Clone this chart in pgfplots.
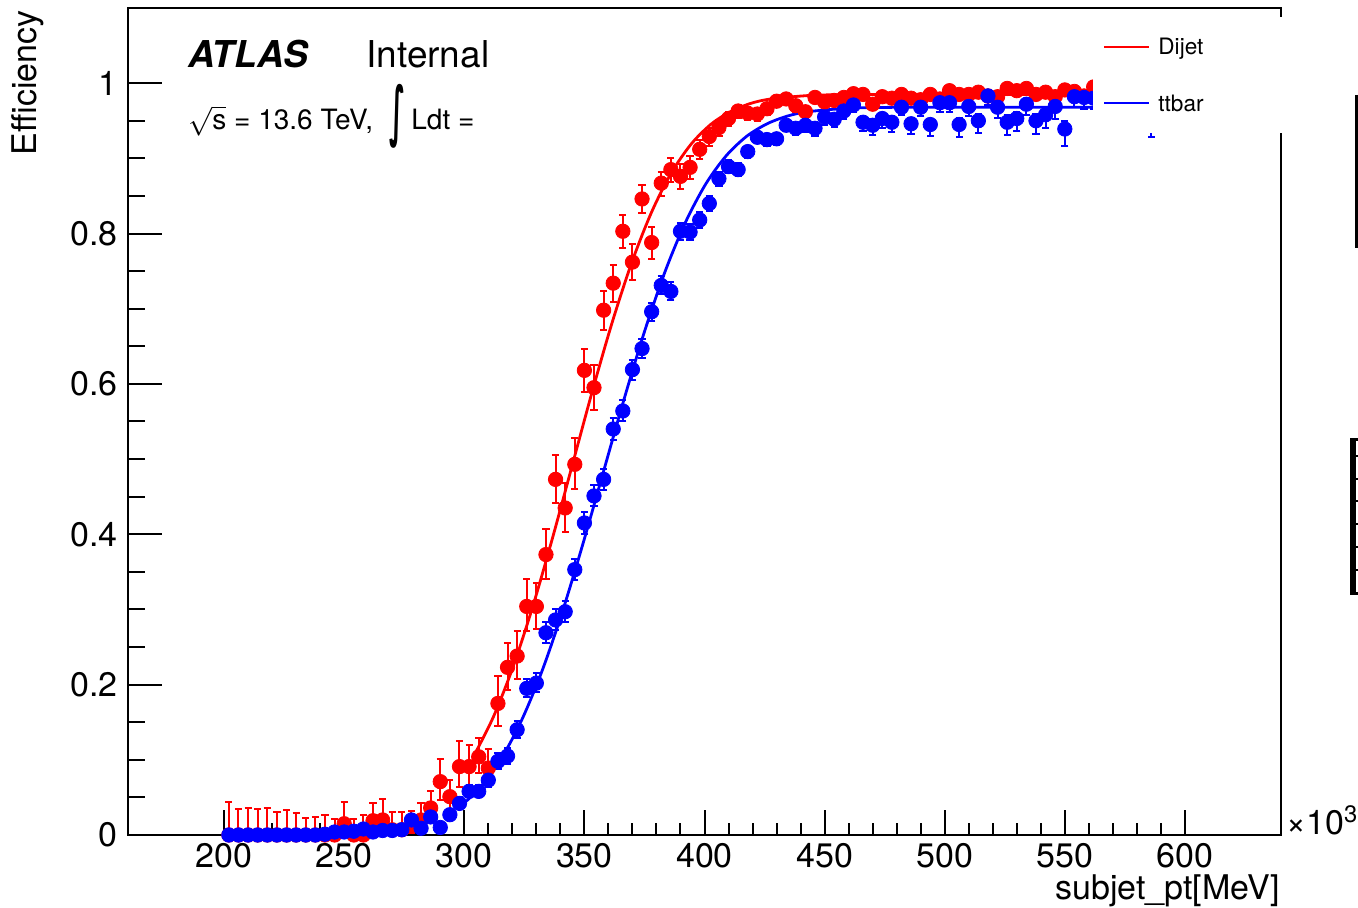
\documentclass[border=0pt]{standalone}
\usepackage{fontspec}
\setmainfont{TeX Gyre Heros}
\newfontfamily\dejavu{DejaVu Sans}
\usepackage{graphicx}
\usepackage{pgfplots}
\usepackage{pgfplotstable}
\pgfplotsset{compat=1.18}

\pgfplotstableread{
x y ep em
202 0 0.044 0
206 0 0.034 0
210 0 0.036 0
214 0 0.035 0
218 0 0.036 0
222 0 0.030 0
226 0 0.033 0
230 0 0.029 0
234 0 0.022 0
238 0 0.024 0
242 0 0.027 0
246 0 0.021 0
250 0.015 0.029 0.012
254 0 0.021 0
258 0 0.027 0
262 0.019 0.023 0.014
266 0.020 0.028 0.015
270 0.007 0.024 0.006
274 0.007 0.023 0.006
278 0.012 0.020 0.009
282 0.020 0.023 0.014
286 0.036 0.022 0.018
290 0.071 0.030 0.025
294 0.051 0.022 0.018
298 0.091 0.034 0.027
302 0.091 0.029 0.024
306 0.104 0.025 0.022
310 0.089 0.025 0.021
314 0.175 0.036 0.030
318 0.223 0.032 0.030
322 0.238 0.033 0.031
326 0.304 0.036 0.033
330 0.304 0.031 0.030
334 0.373 0.034 0.032
338 0.473 0.033 0.032
342 0.435 0.033 0.032
346 0.493 0.035 0.033
350 0.618 0.028 0.029
354 0.595 0.030 0.030
358 0.698 0.025 0.026
362 0.734 0.024 0.025
366 0.803 0.021 0.022
370 0.762 0.024 0.024
374 0.846 0.018 0.019
378 0.788 0.021 0.022
382 0.867 0.015 0.017
386 0.885 0.015 0.016
390 0.876 0.016 0.017
394 0.888 0.015 0.016
398 0.912 0.012 0.013
402 0.929 0.011 0.012
406 0.941 0.010 0.011
410 0.953 0.009 0.010
414 0.963 0.008 0.009
418 0.960 0.008 0.009
422 0.959 0.008 0.009
426 0.966 0.007 0.008
430 0.976 0.006 0.007
434 0.979 0.006 0.007
438 0.970 0.007 0.008
442 0.962 0.008 0.009
446 0.981 0.005 0.006
450 0.975 0.006 0.007
454 0.977 0.006 0.007
458 0.981 0.005 0.006
462 0.986 0.005 0.006
466 0.985 0.005 0.006
470 0.972 0.006 0.007
474 0.982 0.005 0.006
478 0.980 0.005 0.006
482 0.985 0.005 0.006
486 0.980 0.005 0.006
490 0.978 0.005 0.006
494 0.985 0.005 0.006
498 0.979 0.005 0.006
502 0.990 0.004 0.005
506 0.985 0.005 0.006
510 0.985 0.005 0.006
514 0.988 0.004 0.005
518 0.983 0.005 0.006
522 0.982 0.005 0.006
526 0.993 0.004 0.005
530 0.990 0.004 0.005
534 0.993 0.004 0.005
538 0.985 0.005 0.006
542 0.988 0.004 0.005
546 0.982 0.005 0.006
550 0.991 0.004 0.005
554 0.989 0.004 0.005
558 0.983 0.005 0.006
562 0.995 0.003 0.005
566 0.990 0.004 0.006
570 0.988 0.004 0.006
574 0.992 0.004 0.006
578 0.989 0.004 0.006
582 0.991 0.004 0.006
586 0.987 0.005 0.007
590 0.990 0.004 0.006
594 0.992 0.004 0.006
598 0.988 0.005 0.007
}\reddata

\pgfplotstableread{
x y ep em
202 0 0.003 0
206 0 0.003 0
210 0 0.003 0
214 0 0.003 0
218 0 0.003 0
222 0 0.003 0
226 0 0.003 0
230 0 0.003 0
234 0 0.003 0
238 0 0.003 0
242 0.001 0.003 0.001
246 0.004 0.004 0.003
250 0.004 0.004 0.003
254 0.005 0.004 0.003
258 0.008 0.005 0.004
262 0.004 0.004 0.003
266 0.006 0.004 0.003
270 0.006 0.004 0.003
274 0.007 0.005 0.004
278 0.020 0.007 0.006
282 0.009 0.005 0.004
286 0.024 0.007 0.006
290 0.010 0.005 0.004
294 0.027 0.007 0.006
298 0.042 0.008 0.007
302 0.058 0.009 0.008
306 0.058 0.009 0.008
310 0.073 0.010 0.009
314 0.098 0.011 0.010
318 0.105 0.011 0.010
322 0.140 0.012 0.011
326 0.195 0.013 0.012
330 0.202 0.013 0.012
334 0.269 0.014 0.013
338 0.286 0.014 0.013
342 0.297 0.014 0.014
346 0.353 0.014 0.014
350 0.415 0.014 0.014
354 0.451 0.014 0.014
358 0.473 0.014 0.014
362 0.540 0.014 0.014
366 0.564 0.014 0.014
370 0.619 0.013 0.014
374 0.647 0.013 0.013
378 0.696 0.012 0.013
382 0.731 0.012 0.012
386 0.723 0.012 0.012
390 0.803 0.011 0.011
394 0.802 0.011 0.011
398 0.818 0.010 0.011
402 0.840 0.010 0.010
406 0.873 0.009 0.010
410 0.889 0.009 0.009
414 0.885 0.009 0.009
418 0.909 0.008 0.009
422 0.928 0.007 0.008
426 0.925 0.007 0.008
430 0.926 0.007 0.008
434 0.944 0.006 0.008
438 0.940 0.007 0.009
442 0.944 0.007 0.009
446 0.940 0.007 0.010
450 0.955 0.006 0.010
454 0.952 0.006 0.010
458 0.963 0.006 0.010
462 0.971 0.005 0.010
466 0.948 0.007 0.012
470 0.944 0.008 0.013
474 0.953 0.007 0.012
478 0.948 0.008 0.013
482 0.968 0.006 0.011
486 0.946 0.008 0.014
490 0.968 0.006 0.012
494 0.945 0.008 0.015
498 0.974 0.006 0.012
502 0.974 0.006 0.012
506 0.945 0.009 0.016
510 0.969 0.007 0.013
514 0.950 0.009 0.016
518 0.983 0.005 0.012
522 0.968 0.007 0.014
526 0.948 0.009 0.017
530 0.953 0.009 0.017
534 0.972 0.007 0.015
538 0.950 0.009 0.018
542 0.958 0.009 0.017
546 0.969 0.008 0.016
550 0.939 0.011 0.022
554 0.982 0.006 0.014
558 0.981 0.006 0.015
562 0.980 0.006 0.015
566 0.970 0.008 0.018
570 0.975 0.007 0.017
574 0.968 0.008 0.018
578 0.972 0.008 0.018
582 0.975 0.007 0.017
586 0.962 0.010 0.034
590 0.970 0.008 0.018
594 0.975 0.008 0.018
598 0.968 0.009 0.020
}\bluedata

\pgfplotsset{
  frame/.style={
    at={(64pt,36.5pt)}, anchor=south west,
    width=576.5pt, height=413.5pt, scale only axis,
    xmin=160, xmax=640, ymin=0, ymax=1.1,
    tick align=inside, tick pos=left,
    axis line style={line width=1pt},
    every tick/.style={black, line width=1pt},
    /pgf/number format/assume math mode=true,
    tick label style={font=\fontsize{17}{17}\selectfont},
  }
}

\begin{document}
\begin{tikzpicture}
\path[use as bounding box] (0pt,0pt) rectangle (679pt,454pt);
% axis carrying the x ticks
\begin{axis}[frame,
  xtick={200,250,300,350,400,450,500,550,600},
  ytick=\empty, minor x tick num=4,
  major tick length=12.5pt, minor tick length=6pt,
  xticklabel style={anchor=north, inner sep=0pt, yshift=-4pt},
]
\end{axis}
% axis carrying the y ticks and the data
\begin{axis}[frame,
  xtick=\empty,
  ytick={0,0.2,0.4,0.6,0.8,1}, minor y tick num=3,
  major tick length=17pt, minor tick length=8.5pt,
  yticklabel style={anchor=east, inner sep=0pt, xshift=-5pt},
  clip=false,
]
\addplot[only marks, mark=*, color=red, mark size=3.6pt,
  error bars/.cd, y dir=both, y explicit,
  error bar style={line width=1pt, red},
  error mark options={rotate=90, mark size=1.8pt, line width=1pt, red}]
  table[x=x, y=y, y error plus=ep, y error minus=em] {\reddata};
\addplot[red, line width=1.4pt, smooth, no marks] coordinates {
 (304,0.1055) (312,0.1563) (320.25,0.2232) (328.5,0.3039) (336.75,0.3953)
 (345,0.4925) (353.25,0.5897) (361.5,0.6811) (369.75,0.7618) (378,0.8287)
 (386.25,0.881) (394.5,0.9192) (402.75,0.9455) (411,0.9625) (419.25,0.9731)
 (427.5,0.9789) (444,0.9837) (460.5,0.9848) (477,0.985) (530,0.985) (600,0.985)};
\addplot[only marks, mark=*, color=blue, mark size=3.6pt,
  error bars/.cd, y dir=both, y explicit,
  error bar style={line width=1pt, blue},
  error mark options={rotate=90, mark size=1.8pt, line width=1pt, blue}]
  table[x=x, y=y, y error plus=ep, y error minus=em] {\bluedata};
\addplot[blue, line width=1.4pt, smooth, no marks] coordinates {
 (300,0.0426) (307,0.0647) (315.5,0.1022) (324,0.1536) (332.5,0.2193)
 (341,0.2986) (349.5,0.3885) (358,0.484) (366.5,0.5795) (375,0.6694)
 (383.5,0.7487) (392,0.8144) (400.5,0.8658) (409,0.9033) (417.5,0.9292)
 (426,0.9459) (434.5,0.9562) (443,0.962) (460,0.9667) (477,0.9678)
 (494,0.968) (540,0.968) (600,0.968)};
\end{axis}
% legend box (covers data, as in the reference)
\fill[white] (546.5pt,387.5pt) rectangle (652pt,445.5pt);
\draw[red, line width=1pt] (552pt,430.6pt) -- (574.5pt,430.6pt);
\node[anchor=base west, inner sep=0pt, font=\fontsize{11.3}{11.3}\selectfont] at (579pt,426.5pt) {Dijet};
\draw[blue, line width=1pt] (552pt,402.5pt) -- (574.5pt,402.5pt);
\node[anchor=base west, inner sep=0pt, font=\fontsize{11.3}{11.3}\selectfont] at (579pt,398pt) {ttbar};
% ATLAS label
\node[anchor=base west, inner sep=0pt, font=\fontsize{18.5}{18.5}\selectfont\bfseries\itshape] at (94pt,420pt) {ATLAS};
\node[anchor=base west, inner sep=0pt, font=\fontsize{18.5}{18.5}\selectfont] at (183pt,420pt) {Internal};
\node[anchor=base west, inner sep=0pt, font=\fontsize{14}{14}\selectfont] at (94pt,389pt) {$\sqrt{\mbox{s}}$ = 13.6 TeV,};
\node[inner sep=0pt] at (198.5pt,395.7pt) {\resizebox*{8pt}{32pt}{\dejavu\bfseries ∫}};
\node[anchor=base west, inner sep=0pt, font=\fontsize{14}{14}\selectfont] at (205.5pt,389pt) {Ldt =};
% axis titles
\node[rotate=90, anchor=east, inner sep=0pt, font=\fontsize{17}{17}\selectfont] at (14pt,449pt) {Efficiency};
\node[anchor=base east, inner sep=0pt, font=\fontsize{17}{17}\selectfont] at (640pt,4pt) {subjet\_pt[MeV]};
\node[anchor=base west, inner sep=0pt, font=\fontsize{17}{17}\selectfont] at (643pt,36.5pt) {×10\textsuperscript{3}};
% stray marks at the right edge
\draw[black, line width=1.5pt] (678pt,406.5pt) -- (678pt,330pt);
\fill[black] (675pt,156.5pt) rectangle (679pt,235pt);
\fill[white] (678pt,158pt) rectangle (679pt,233.5pt);
\foreach \yy in {226,214.5,203.5,192,180.5,169} {\draw[black, line width=0.6pt] (677pt,\yy pt) -- (679pt,\yy pt);}
\end{tikzpicture}
\end{document}
